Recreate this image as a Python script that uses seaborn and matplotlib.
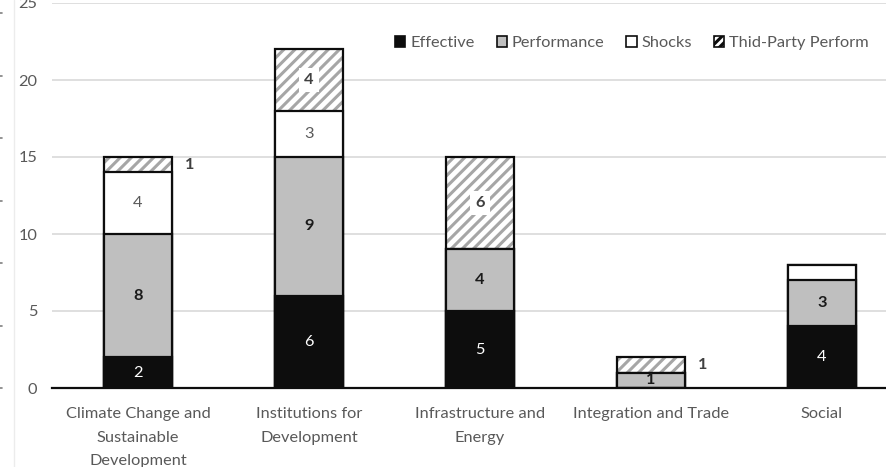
import matplotlib
matplotlib.use("Agg")
import matplotlib.pyplot as plt
from matplotlib.lines import Line2D
from matplotlib.patches import Patch
import numpy as np
import pandas as pd
import seaborn as sns

# --- data -------------------------------------------------------------
categories = [
    "Climate Change and\nSustainable\nDevelopment",
    "Institutions for\nDevelopment",
    "Infrastructure and\nEnergy",
    "Integration and Trade",
    "Social",
]
effective = [2, 6, 5, 0, 4]
performance = [8, 9, 4, 1, 3]
shocks = [4, 3, 0, 0, 1]
third_party = [1, 4, 6, 1, 0]
series_names = ["Effective", "Performance", "Shocks", "Thid-Party Perform"]

# which segments carry a value label (Social shocks is left unlabelled)
show_effective = [True, True, True, False, True]
show_performance = [True, True, True, True, True]
show_shocks = [True, True, False, False, False]
show_third = [True, True, True, True, False]
third_outside = [True, False, False, True, False]

# --- style ------------------------------------------------------------
sns.set_theme(style="white")
plt.rcParams["font.family"] = ["Lato", "DejaVu Sans"]
plt.rcParams["hatch.linewidth"] = 2.2

TXT = "#595959"
GRID = "#d9d9d9"
BLACK = "#0d0d0d"
GRAY = "#bfbfbf"
HATCH = "#a6a6a6"
BAR_W = 0.4
FS = 11.8

fig = plt.figure(figsize=(8.87, 4.67), dpi=100)
ax = fig.add_axes([52.5 / 887, 1 - 388 / 467, 855 / 887, 385 / 467])

layers = np.array([effective, performance, shocks, third_party], dtype=float)
cum = layers.cumsum(axis=0)

df = pd.DataFrame({
    "category": categories,
    "c1": cum[0], "c2": cum[1], "c3": cum[2], "c4": cum[3],
})

# top (hatched) layer first, each lower cumulative layer drawn over it
sns.barplot(data=df, x="category", y="c4", color="white", width=BAR_W,
            linewidth=0, ax=ax)
hatched = ax.containers[-1]
for p in hatched:
    p.set_hatch("///")
    p.set_edgecolor(HATCH)
    p.set_facecolor("white")
sns.barplot(data=df, x="category", y="c4", color=BLACK, fill=False,
            width=BAR_W, linewidth=1.6, ax=ax)
sns.barplot(data=df, x="category", y="c3", color="white", width=BAR_W,
            edgecolor=BLACK, linewidth=1.6, ax=ax)
sns.barplot(data=df, x="category", y="c2", color=GRAY, width=BAR_W,
            edgecolor=BLACK, linewidth=1.6, ax=ax)
sns.barplot(data=df, x="category", y="c1", color=BLACK, width=BAR_W,
            edgecolor=BLACK, linewidth=1.6, ax=ax)
for cont in ax.containers:
    for p in cont:
        p.set_zorder(3)

# --- value labels -----------------------------------------------------
for i in range(len(categories)):
    lo = [0] + list(cum[:-1, i])
    if show_effective[i]:
        ax.text(i, lo[0] + effective[i] / 2, str(effective[i]), ha="center",
                va="center", color="white", fontsize=FS, zorder=5)
    if show_performance[i]:
        ax.text(i, lo[1] + performance[i] / 2, str(performance[i]),
                ha="center", va="center", color="#1a1a1a", fontsize=FS,
                fontweight="bold", zorder=5)
    if show_shocks[i]:
        ax.text(i, lo[2] + shocks[i] / 2, str(shocks[i]), ha="center",
                va="center", color=TXT, fontsize=FS, zorder=5)
    if show_third[i]:
        y = lo[3] + third_party[i] / 2
        if third_outside[i]:
            ax.text(i + BAR_W / 2 + 0.1, y, str(third_party[i]), ha="center",
                    va="center", color="#404040", fontsize=FS,
                    fontweight="bold", zorder=5)
        else:
            ax.text(i, y, str(third_party[i]), ha="center", va="center",
                    color="#404040", fontsize=FS, fontweight="bold", zorder=5,
                    bbox=dict(boxstyle="square,pad=0.3", fc="white",
                              ec="none"))

# --- axes -------------------------------------------------------------
ax.set_xlim(-0.5, len(categories) - 0.5)
ax.set_ylim(0, 25)
ax.set_yticks(range(0, 26, 5))
ax.yaxis.grid(True, color=GRID, linewidth=1.2, zorder=0)
ax.set_axisbelow(True)
for side in ["top", "right", "left"]:
    ax.spines[side].set_visible(False)
ax.spines["bottom"].set_color(BLACK)
ax.spines["bottom"].set_linewidth(1.6)
ax.spines["bottom"].set_zorder(4)
ax.set_xlabel("")
ax.set_ylabel("")
ax.tick_params(axis="y", length=0, pad=11, labelsize=FS, labelcolor=TXT)
ax.tick_params(axis="x", length=0, pad=14, labelsize=FS, labelcolor=TXT)
for lbl in ax.get_xticklabels():
    lbl.set_linespacing(1.85)
    lbl.set_va("top")

# --- legend -----------------------------------------------------------
handles = [
    Patch(facecolor=BLACK, edgecolor=BLACK, linewidth=1.2),
    Patch(facecolor=GRAY, edgecolor=BLACK, linewidth=1.2),
    Patch(facecolor="white", edgecolor=BLACK, linewidth=1.2),
    Patch(facecolor="white", edgecolor=BLACK, linewidth=1.2, hatch="////"),
]
leg = fig.legend(handles, series_names, loc="upper right",
                 bbox_to_anchor=(869 / 887, 1 - 36 / 467), ncol=4,
                 frameon=False, fontsize=FS, handlelength=0.62,
                 handleheight=0.62, handletextpad=0.3, columnspacing=1.35,
                 borderaxespad=0, borderpad=0)
for t in leg.get_texts():
    t.set_color(TXT)

# faint frame line and tick marks at the left edge
fig.add_artist(Line2D([14 / 887, 14 / 887], [0, 1], color="#ececec",
                      linewidth=1, transform=fig.transFigure))
for yp in [13, 75.5, 138, 200.5, 263, 325.5, 388]:
    fig.add_artist(Line2D([0, 2.5 / 887], [1 - yp / 467, 1 - yp / 467],
                          color="#808080", linewidth=1.2,
                          transform=fig.transFigure))

fig.savefig("out.png", dpi=100)
